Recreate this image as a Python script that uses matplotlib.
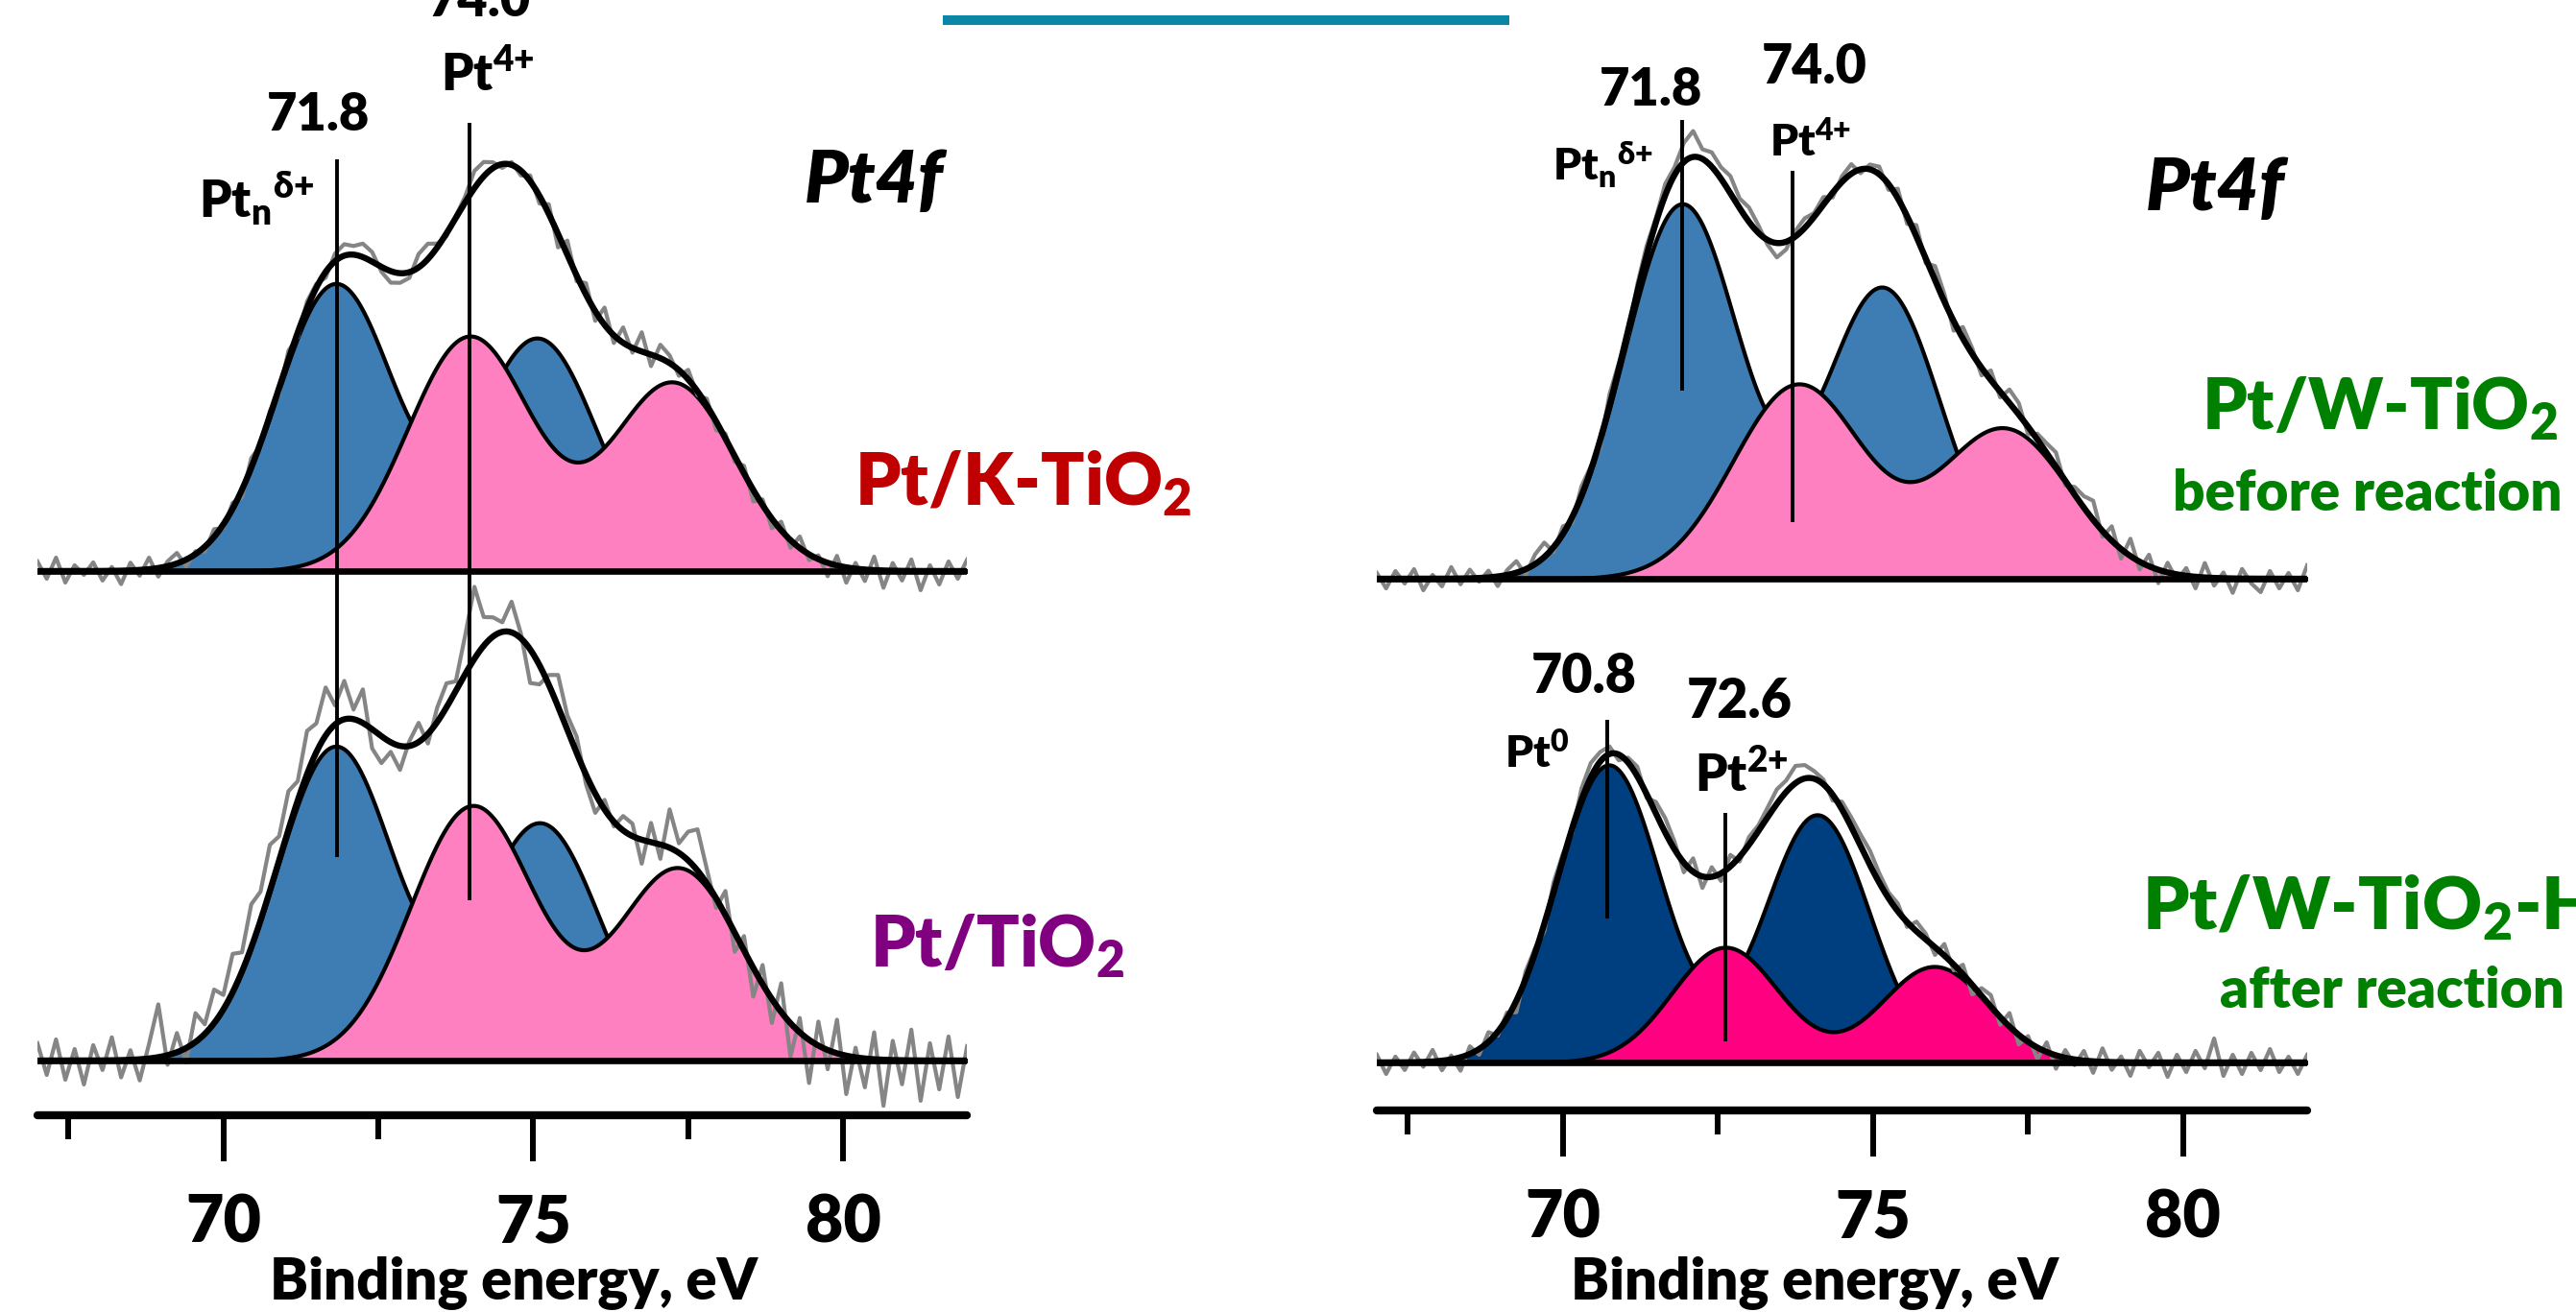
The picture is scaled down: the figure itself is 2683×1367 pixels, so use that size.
import numpy as np
import matplotlib
matplotlib.use("Agg")
import matplotlib.pyplot as plt
from matplotlib import font_manager
from matplotlib.lines import Line2D

W, H = 2683, 1367

# binding energy grid of the raw (measured) spectra, eV
raw_energy = np.round(np.arange(67.0, 82.0 + 1e-9, 0.15), 2)

# fitted Pt4f doublets: centres (eV), heights (arb. units), widths (eV)
# Pt/K-TiO2
k_blue_pos, k_blue_amp, k_blue_sig = [71.81, 75.07], [299, 242], 0.95
k_pink_pos, k_pink_amp, k_pink_sig = [73.97, 77.25], [244, 196], 1.0
# Pt/TiO2
t_blue_pos, t_blue_amp, t_blue_sig = [71.81, 75.11], [327, 247], 0.95
t_pink_pos, t_pink_amp, t_pink_sig = [74.02, 77.34], [265, 200], 1.0
# Pt/W-TiO2 before reaction
w_blue_pos, w_blue_amp, w_blue_sig = [71.92, 75.15], [390, 303], 0.93
w_pink_pos, w_pink_amp, w_pink_sig = [73.79, 77.11], [202, 156], 1.05
# Pt/W-TiO2-H2 after reaction
h_blue_pos, h_blue_amp, h_blue_sig = [70.74, 74.10], [310, 258], 0.84
h_pink_pos, h_pink_amp, h_pink_sig = [72.62, 75.99], [120, 100], 0.86

# raw data minus fit envelope
k_resid = [10, -8, 14, -12, 6, -4, 9, -10, 4, -14,
           8, -6, 12, -9, 5, 11, -7, 3, -5, 8,
           -4, 6, -8, 10, -3, 5, -6, 9, -5, 7,
           4, -6, 8, 12, 9, 14, 10, -5, -12, -10,
           -6, 14, 16, 4, -3, 2, 6, 18, 15, 6,
           -4, 3, -5, 6, -8, 10, -14, 15, -6, 12,
           -10, 18, -8, 16, -5, 20, -12, 14, 8, -6,
           10, -4, 7, -9, 5, -6, 8, -12, 6, -10,
           9, -8, 12, -6, 4, -14, 10, -16, 6, -12,
           14, -18, 8, -10, 12, -20, 6, -14, 10, -8,
           12]
t_resid = [18, -15, 22, -20, 12, -25, 16, -10, 24, -18, 10, -22, 15, 55,
           -10, 20, -15, 30, 10, 35,
           15, 40, 20, 45, 30, 48, 25, 40, 20, 45,
           30, 50, 20, 40, 10, 35,
           -20, -28, -10, -25, 5,
           20, -10, 15, 25, 10,
           40, 75, 30, 20,
           10, 32, 5,
           -35, -20, 10,
           33, 15, 17, -10,
           -20, 10, -5, 15,
           13, -25, 20, -15,
           40, 10, 30, 43, 15,
           -10, 25, -20, 15, -30, 20,
           -25, 30, -35, 15, -45, 25, -20, 35, -40, 10, -30, 28, -48, 20,
           -25, 32, -42, 18, -30, 25, -38, 15]
w_resid = [6, -10, 8, -5, 10, -12, 4, -8, 12, -6, 9, -4, 7, -10, 5, 12, -6, 10, 15, -5,
           8, -6, 10, 4, -8, 12, 6, -5, 8, 10,
           5, 12, 8, 20, 27, 10,
           15, 12, 18, 10, 15, 8, -5,
           -15, -8, 6, 10, 4,
           8, -5, 6, 10, -4, 5, 8, -6,
           10, -8, 12, -5, 15, 8, -10, 12, 6, -8,
           10, -6, 14, 12, -8, 6, 10, 15, -5, 8,
           12, 20, -6, 15, -10, 18, -8, 12, -14, 10, -6, 8, -12, 15, -8, 6,
           -15, 10, -5, -14, 8, -10, 6, -12, 14]
h_resid = [8, -12, 6, -8, 10, -5, 12, -10, 4, -14, 8, -6, 10, -4, 6, -12, 8, 5, -8, 10,
           6, -5, 12, 15, 10, 8, -6, 5, 10, -4,
           12, 15, 8, -10, 14, -12,
           10, -8, 12, -5, 8,
           6, 10, 15, 12, 18, 14, 8,
           5, -6, 8, 10, 12, 15, 10, 6,
           8, -5, 10, 6, -8, 12, -6, 10, -10, 8,
           12, -8, 14, -10, 6, -12, 10, -14, 8, -6,
           10, -12, 14, -8, 6, -14, 12, -5, 10, -15, 8, -10, 12, -6, 25, -14,
           8, -12, 10, -8, 14, -10, 6, -12, 8]

# spectrum baselines above the energy axis (arb. units)
left_bases = [567, 57]
right_bases = [554, 50]

# peak-marker lines: energy, bottom, top
left_marks_x, left_marks_lo, left_marks_hi = [71.83, 73.97], [269, 224], [996, 1034]
right_top_marks_x, right_top_marks_lo, right_top_marks_hi = [71.92, 73.70], [750, 613], [1032, 979]
right_bot_marks_x, right_bot_marks_lo, right_bot_marks_hi = [70.71, 72.62], [200, 72], [407, 310]

major_ticks = [70, 75, 80]
minor_ticks = [67.5, 72.5, 77.5]

BLUE, PINK = "#3E7DB4", "#FF80C0"
DBLUE, MAGENTA = "#003F7F", "#FF0080"
WEIGHT = "heavy"


def pick_font():
    for name in ["Lato", "Open Sans", "DejaVu Sans"]:
        try:
            font_manager.findfont(font_manager.FontProperties(family=name),
                                  fallback_to_default=False)
            return name
        except ValueError:
            pass
    return "DejaVu Sans"


FONT = pick_font()
plt.rcParams["font.family"] = [FONT, "DejaVu Sans"]
plt.rcParams["font.weight"] = WEIGHT
plt.rcParams["mathtext.default"] = "regular"


def doublet(x, pos, amp, sig):
    return sum(a * np.exp(-0.5 * ((x - p) / sig) ** 2) for p, a in zip(pos, amp))


def draw_spectrum(ax, base, comps, resid):
    x = np.linspace(67.0, 82.0, 1500)
    env = np.zeros_like(x)
    env_raw = np.zeros_like(raw_energy)
    for pos, amp, sig, color in comps:
        y = doublet(x, pos, amp, sig)
        env += y
        env_raw += doublet(raw_energy, pos, amp, sig)
        ax.fill_between(x, base, base + y, facecolor=color, edgecolor="black",
                        lw=3.0, zorder=2)
    ax.plot(raw_energy, base + env_raw + np.array(resid), color="#858585",
            lw=3.0, zorder=3)
    ax.plot(x, base + env, color="black", lw=4.6, zorder=5)
    ax.plot([67.0, 82.0], [base, base], color="black", lw=4.8, zorder=6)


def setup_axis(ax, ymax, label_x, pad):
    ax.set_xlim(67.0, 82.0)
    ax.set_ylim(0, ymax)
    for s in ["left", "right", "top"]:
        ax.spines[s].set_visible(False)
    ax.spines["bottom"].set_linewidth(6)
    ax.spines["bottom"].set_capstyle("round")
    ax.set_yticks([])
    ax.set_xticks(major_ticks)
    ax.set_xticks(minor_ticks, minor=True)
    ax.tick_params(axis="x", which="major", direction="out", length=34.5,
                   width=4.3, labelsize=49, pad=pad)
    ax.tick_params(axis="x", which="minor", direction="out", length=18,
                   width=4.3)
    ax.set_xlabel("Binding energy, eV", fontsize=43, fontweight=WEIGHT)
    ax.xaxis.set_label_coords(label_x / W, 1 - 1353 / H, transform=fig.transFigure)
    ax.xaxis.label.set_va("baseline")
    ax.patch.set_alpha(0)


def label(x, y, s, size, color="black", ha="left", style="normal"):
    fig.text(x / W, 1 - y / H, s, fontsize=size, color=color, ha=ha,
             va="baseline", fontweight=WEIGHT, fontstyle=style)


fig = plt.figure(figsize=(W / 100, H / 100), dpi=100)

ax_l = fig.add_axes([39 / W, (H - 1162) / H, 968.3 / W, 1162 / H])
ax_r = fig.add_axes([1434 / W, (H - 1157) / H, 969 / W, 1157 / H])

draw_spectrum(ax_l, left_bases[0],
              [(k_blue_pos, k_blue_amp, k_blue_sig, BLUE),
               (k_pink_pos, k_pink_amp, k_pink_sig, PINK)], k_resid)
draw_spectrum(ax_l, left_bases[1],
              [(t_blue_pos, t_blue_amp, t_blue_sig, BLUE),
               (t_pink_pos, t_pink_amp, t_pink_sig, PINK)], t_resid)
ax_l.vlines(left_marks_x, left_marks_lo, left_marks_hi, color="black", lw=2.8, zorder=4)

draw_spectrum(ax_r, right_bases[0],
              [(w_blue_pos, w_blue_amp, w_blue_sig, BLUE),
               (w_pink_pos, w_pink_amp, w_pink_sig, PINK)], w_resid)
draw_spectrum(ax_r, right_bases[1],
              [(h_blue_pos, h_blue_amp, h_blue_sig, DBLUE),
               (h_pink_pos, h_pink_amp, h_pink_sig, MAGENTA)], h_resid)
ax_r.vlines(right_top_marks_x, right_top_marks_lo, right_top_marks_hi,
            color="black", lw=2.8, zorder=4)
ax_r.vlines(right_bot_marks_x, right_bot_marks_lo, right_bot_marks_hi,
            color="black", lw=2.8, zorder=4)

setup_axis(ax_l, 1162, 535, 24.5)
setup_axis(ax_r, 1157, 1890, 24)

# left panel labels
label(500, 17, "74.0", 39, ha="center")
label(331, 136, "71.8", 39, ha="center")
label(459, 95, r"Pt$^{4{+}}$", 38)
label(207, 227, r"Pt$_n{}^{\delta{+}}$", 38)
label(838, 211, "Pt4f", 55, style="italic")
label(890, 526, r"Pt/K-TiO$_2$", 54, color="#C00000")
label(906, 1008, r"Pt/TiO$_2$", 53, color="#800080")

# right panel labels
label(1719, 110, "71.8", 39, ha="center")
label(1890, 87, "74.0", 40, ha="center")
label(1617, 188, r"Pt$_n{}^{\delta{+}}$", 33)
label(1843, 163, r"Pt$^{4{+}}$", 33)
label(2235, 219, "Pt4f", 55, style="italic")
label(2293, 448, r"Pt/W-TiO$_2$", 53, color="#008000")
label(2263, 532, "before reaction", 42, color="#008000")
label(1650, 722, "70.8", 40, ha="center")
label(1567, 800, r"Pt$^0$", 33)
label(1812, 748, "72.6", 40, ha="center")
label(1765, 825, r"Pt$^{2{+}}$", 38)
label(2231, 968, r"Pt/W-TiO$_2$-H$_2$", 55, color="#008000")
label(2312, 1050, "after reaction", 42, color="#008000")

# teal rule at the top
fig.add_artist(Line2D([982 / W, 1572 / W], [1 - 21 / H, 1 - 21 / H],
                      transform=fig.transFigure, color="#0B86A7", lw=7.2,
                      solid_capstyle="butt"))

fig.savefig("out.png", dpi=100)
